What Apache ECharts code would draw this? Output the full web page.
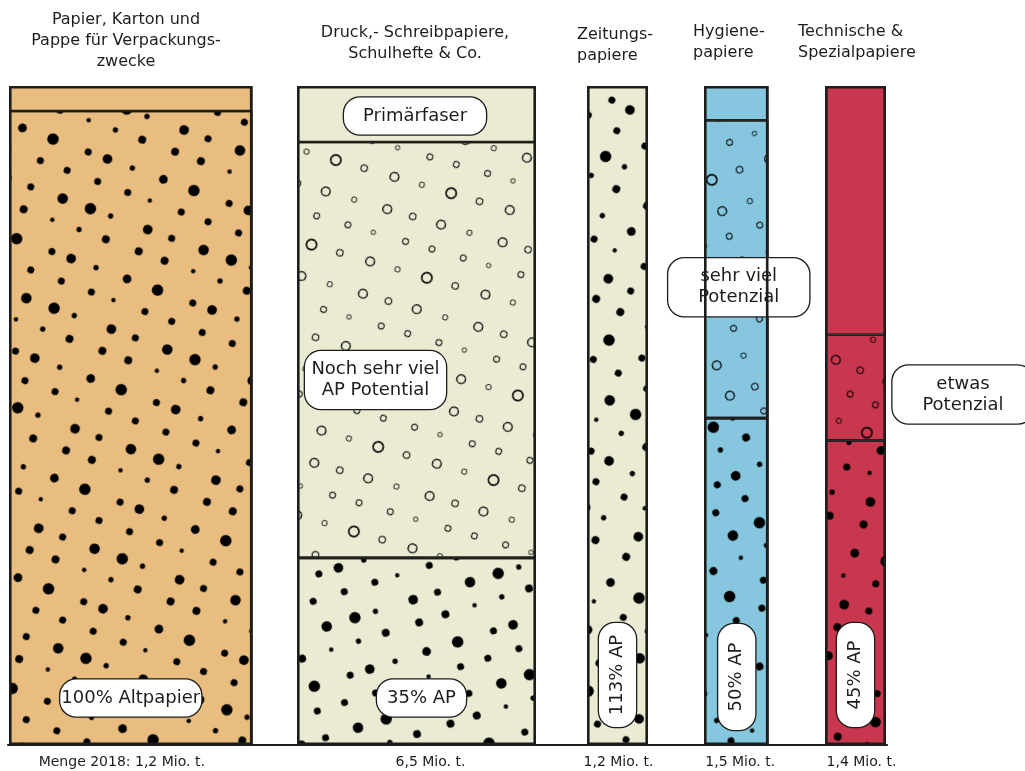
<!DOCTYPE html>
<html><head><meta charset="utf-8">
<script src="https://cdn.jsdelivr.net/npm/echarts@6/dist/echarts.min.js"></script>
<style>html,body{margin:0;padding:0;background:#fff}#c{width:1025px;height:771px}</style>
</head><body><div id="c"></div>
<script>
// ---------- data ----------
const categories = [
  'Papier, Karton und\nPappe für Verpackungs-\nzwecke',
  'Druck,- Schreibpapiere,\nSchulhefte & Co.',
  'Zeitungs-\npapiere',
  'Hygiene-\npapiere',
  'Technische &\nSpezialpapiere'
];
const amounts = ['Menge 2018: 1,2 Mio. t.', '6,5 Mio. t.', '1,2 Mio. t.', '1,5 Mio. t.', '1,4 Mio. t.'];
// share of column height (%) for each section
const altpapierShare = [96.2, 28.4, 100, 49.6, 46.2];
const potenzialShare = [0, 63.1, 0, 45.2, 16.1];
const primaerShare   = [3.8, 8.5, 0, 5.2, 37.7];
const apLabels        = ['100% Altpapier', '35% AP', '113% AP', '50% AP', '45% AP'];
const potenzialLabels = ['', 'Noch sehr viel\nAP Potential', '', 'sehr viel\nPotenzial', 'etwas\nPotenzial'];
const primaerLabels   = ['', 'Primärfaser', '', '', ''];

// ---------- layout & style ----------
const FONT = 'DejaVu Sans';
const INK = '#1d1d1b';
const colLeft  = [9, 297, 587, 704, 825];
const colWidth = [243.5, 239, 61, 64.5, 61];
const colFill  = ['#E9BD80', '#EBEBD4', '#EBEBD4', '#86C6DE', '#C8374D'];
const dotRot   = [0.35, -0.3, 0.5, -0.45, 0.25];
const ringRot  = [0, 0.28, 0, -0.35, 0.4];
const titlePos = [
  {left: 126, top: 9, align: 'center'},
  {left: 415, top: 22, align: 'center'},
  {left: 577, top: 24, align: 'left'},
  {left: 693, top: 21, align: 'left'},
  {left: 798, top: 21, align: 'left'}
];
const amountPad = [[0, 18, 0, 0], [0, 0, 0, 28], [0, 0, 0, 2], [0, 0, 0, 8], [0, 0, 0, 12]];
// offsets of rotated labels are given in the label's rotated frame
const apLabelLayout = [
  {offset: [0, -47], rotate: 0, boxW: 141},
  {offset: [5, -47], rotate: 0, boxW: 89},
  {offset: [70, 0], rotate: 90, boxW: 104},
  {offset: [68, 0.5], rotate: 90, boxW: 106},
  {offset: [70, 0], rotate: 90, boxW: 104}
];
const potLabelLayout = [
  null,
  {offset: [-41, 30], boxW: 141},
  null,
  {offset: [2.5, 18], boxW: 141},
  {offset: [107.5, 7], boxW: 141}
];
const primLabelLayout = [null, {offset: [-1.5, 2], boxW: 142}, null, null, null];

const boxStyle = {
  color: INK, fontFamily: FONT, fontSize: 18, lineHeight: 21,
  backgroundColor: '#fff', borderColor: INK, borderWidth: 1.3, borderRadius: 16,
  padding: [8, 8], overflow: 'none', align: 'center', verticalAlign: 'middle'
};

function dotDecal(rot) {
  return {
    symbol: 'circle', color: '#000', symbolSize: 0.88, symbolKeepAspect: true, rotation: rot,
    dashArrayX: [
      [11, 18, 6, 25, 10, 21, 13, 27, 8, 11],
      [8, 22, 12, 15, 5, 26, 10, 19, 9, 24],
      [13, 12, 6, 31, 11, 16, 8, 24, 12, 17],
      [6, 20, 11, 25, 9, 16, 14, 21, 5, 23]
    ],
    dashArrayY: [13, 14, 8, 17, 14, 12, 9, 19]
  };
}
const RING = 'path://M10 0A10 10 0 1 1 -10 0A10 10 0 1 1 10 0ZM7.3 0A7.3 7.3 0 1 0 -7.3 0A7.3 7.3 0 1 0 7.3 0Z';
function ringDecal(rot) {
  return {
    symbol: RING, color: '#000', symbolSize: 0.85, symbolKeepAspect: true, rotation: rot,
    dashArrayX: [
      [12, 20, 7, 24, 14, 15, 9, 19],
      [8, 22, 13, 17, 6, 25, 11, 18],
      [14, 18, 9, 21, 12, 19, 7, 20]
    ],
    dashArrayY: [12, 16, 8, 18, 14, 20]
  };
}

function makeLabel(text, lay, pos) {
  if (!text || !lay) return {show: false};
  return Object.assign({}, boxStyle, {
    show: true, formatter: text, position: pos,
    offset: lay.offset, rotate: lay.rotate || 0, width: lay.boxW - 16
  });
}
const v = x => (x ? x : '-');

const grid = [], xAxis = [], yAxis = [], series = [], title = [];
categories.forEach((cat, i) => {
  grid.push({left: colLeft[i], width: colWidth[i], top: 86, height: 659});
  xAxis.push({
    gridIndex: i, type: 'category', data: [amounts[i]],
    axisLine: {show: false}, axisTick: {show: false},
    axisLabel: {margin: 10, fontSize: 14, color: INK, fontFamily: FONT, padding: amountPad[i], interval: 0}
  });
  yAxis.push({gridIndex: i, type: 'value', min: 0, max: 100, show: false});
  title.push({
    text: cat, left: titlePos[i].left, top: titlePos[i].top, textAlign: titlePos[i].align,
    padding: 0, textVerticalAlign: 'top',
    textStyle: {fontFamily: FONT, fontSize: 16, lineHeight: 21, fontWeight: 'normal', color: INK}
  });
  const common = {
    type: 'bar', xAxisIndex: i, yAxisIndex: i, stack: 'col' + i,
    barWidth: '100%', barGap: '-100%', clip: false, silent: true
  };
  series.push(Object.assign({}, common, {
    name: 'Altpapier',
    itemStyle: {color: colFill[i], borderColor: INK, borderWidth: 1.3, decal: dotDecal(dotRot[i])},
    data: [{value: v(altpapierShare[i]), label: makeLabel(apLabels[i], apLabelLayout[i], ['50%', '100%'])}]
  }));
  series.push(Object.assign({}, common, {
    name: 'Potenzial',
    itemStyle: {color: colFill[i], borderColor: INK, borderWidth: 1.3, decal: ringDecal(ringRot[i])},
    data: [{value: v(potenzialShare[i]), label: makeLabel(potenzialLabels[i], potLabelLayout[i], ['50%', '50%'])}]
  }));
  series.push(Object.assign({}, common, {
    name: 'Primärfaser',
    itemStyle: {color: colFill[i], borderColor: INK, borderWidth: 1.3},
    data: [{value: v(primaerShare[i]), label: makeLabel(primaerLabels[i], primLabelLayout[i], ['50%', '50%'])}]
  }));
  series.push({
    type: 'bar', name: 'Rahmen', xAxisIndex: i, yAxisIndex: i,
    barWidth: '100%', barGap: '-100%', clip: false, silent: true, z: 5,
    itemStyle: {color: 'rgba(0,0,0,0)', borderColor: INK, borderWidth: 2.6},
    data: [100]
  });
});
// baseline spanning all columns
grid.push({left: 8, width: 879, top: 86, height: 659});
xAxis.push({gridIndex: 5, type: 'value', min: 0, max: 1, axisLine: {show: true, lineStyle: {color: INK, width: 2.2}},
  axisTick: {show: false}, axisLabel: {show: false}, splitLine: {show: false}});
yAxis.push({gridIndex: 5, type: 'value', min: 0, max: 1, show: false});

const chart = echarts.init(document.getElementById('c'), null, {renderer: 'canvas'});
chart.setOption({
  animation: false, backgroundColor: '#fff',
  title, grid, xAxis, yAxis, series
});
</script></body></html>
